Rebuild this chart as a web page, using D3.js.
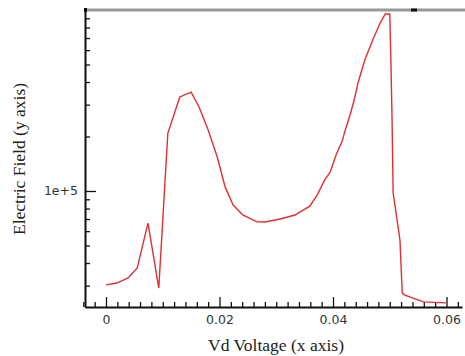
<!DOCTYPE html>
<html lang="en">
<head>
    <meta charset="UTF-8">
    <title>Electric Field vs Vd Voltage</title>
    <script src="https://d3js.org/d3.v7.min.js"></script>
    <style>
        body { margin: 0; background: #fff; }
    </style>
</head>
<body>
    <script>
        // values
        var vd = [0, 0.0019, 0.0039, 0.0055, 0.0074, 0.0093, 0.0109, 0.0130, 0.0150, 0.0164,
                  0.0180, 0.0196, 0.0210, 0.0224, 0.0241, 0.0266, 0.0280, 0.0307, 0.0333, 0.0359,
                  0.0372, 0.0386, 0.0395, 0.0406, 0.0416, 0.0421, 0.0430, 0.0437, 0.0444, 0.0456,
                  0.0470, 0.0483, 0.0492, 0.0500, 0.0502, 0.0504, 0.0506, 0.0518, 0.0522, 0.0527,
                  0.0559, 0.0599];
        var field = [30300, 31000, 33100, 37600, 66500, 29100, 209000, 331000, 352000, 291000,
                     217000, 154000, 105000, 83700, 73700, 67500, 67400, 70000, 73700, 82500,
                     95000, 116000, 127000, 160000, 188000, 214000, 263000, 315000, 395000, 529000,
                     683000, 848000, 950000, 950000, 529000, 256000, 97500, 53600, 27300, 26600,
                     24400, 24100];
        var xMajor = [0, 0.02, 0.04, 0.06];
        var yMajor = [1e5];

        var width = 465, height = 356;
        var pLeft = 85, pRight = 462, pTop = 10, pBottom = 307;

        var svg = d3.select('body').append('svg')
            .attr('width', width)
            .attr('height', height);

        // 0 sits at x=106, 0.06 at x=446
        var x = d3.scaleLinear()
            .domain([(pLeft - 106) / 5675, (pRight - 106) / 5675])
            .range([pLeft, pRight]);
        var y = d3.scaleLog()
            .domain([22860, 1e6])
            .range([pBottom, pTop]);

        // minor ticks
        var xMinor = d3.range(-2, 32).map(function (i) { return i * 0.002; })
            .filter(function (v) { return xMajor.indexOf(+v.toFixed(3)) < 0; });
        var yMinor = [];
        [1e4, 1e5].forEach(function (p) {
            for (var k = 2; k <= 9; k++) {
                if (k * p >= 22860 && k * p <= 1e6) yMinor.push(k * p);
            }
        });

        svg.append('g')
            .attr('transform', 'translate(0,' + pBottom + ')')
            .call(d3.axisBottom(x).tickValues(xMinor).tickSize(-5).tickFormat(''))
            .call(function (g) { g.select('.domain').remove(); });
        svg.append('g')
            .attr('transform', 'translate(' + pLeft + ',0)')
            .call(d3.axisLeft(y).tickValues(yMinor).tickSize(-5).tickFormat(''))
            .call(function (g) { g.select('.domain').remove(); });

        var xAxis = svg.append('g')
            .attr('transform', 'translate(0,' + pBottom + ')')
            .call(d3.axisBottom(x).tickValues(xMajor).tickSizeInner(-10).tickSizeOuter(0)
                .tickPadding(8).tickFormat(function (d) { return d === 0 ? '0' : d3.format('.2f')(d); }));
        var yAxis = svg.append('g')
            .attr('transform', 'translate(' + pLeft + ',0)')
            .call(d3.axisLeft(y).tickValues(yMajor).tickSizeInner(-11).tickSizeOuter(0)
                .tickPadding(7).tickFormat(function () { return '1e+5'; }));

        svg.selectAll('.tick line').attr('stroke', '#111').attr('stroke-width', 1.3);
        [xAxis, yAxis].forEach(function (g) {
            g.select('.domain').attr('stroke', '#111').attr('stroke-width', 2);
            g.selectAll('text')
                .attr('font-family', 'DejaVu Sans')
                .attr('font-size', 12.5)
                .attr('fill', '#333');
        });

        // grey frame line on top
        svg.append('line')
            .attr('x1', pLeft).attr('x2', width)
            .attr('y1', pTop).attr('y2', pTop)
            .attr('stroke', '#999').attr('stroke-width', 3);
        svg.append('line')
            .attr('x1', 411).attr('x2', 417)
            .attr('y1', pTop).attr('y2', pTop)
            .attr('stroke', '#111').attr('stroke-width', 3);
        svg.append('rect')
            .attr('x', pLeft - 1).attr('y', pTop - 2)
            .attr('width', 3).attr('height', 4)
            .attr('fill', '#111');

        var line = d3.line()
            .x(function (d, i) { return x(vd[i]); })
            .y(function (d) { return y(d); });

        svg.append('path')
            .datum(field)
            .attr('d', line)
            .attr('fill', 'none')
            .attr('stroke', '#e03030')
            .attr('stroke-width', 1.4);

        // axis titles
        svg.append('text')
            .attr('x', 276).attr('y', 351)
            .attr('text-anchor', 'middle')
            .attr('font-family', 'Liberation Serif')
            .attr('font-size', 17.5)
            .attr('fill', '#222')
            .text('Vd Voltage (x axis)');
        svg.append('text')
            .attr('transform', 'translate(25,159) rotate(-90)')
            .attr('text-anchor', 'middle')
            .attr('font-family', 'Liberation Serif')
            .attr('font-size', 17.5)
            .attr('fill', '#222')
            .text('Electric Field (y axis)');
    </script>
</body>
</html>
